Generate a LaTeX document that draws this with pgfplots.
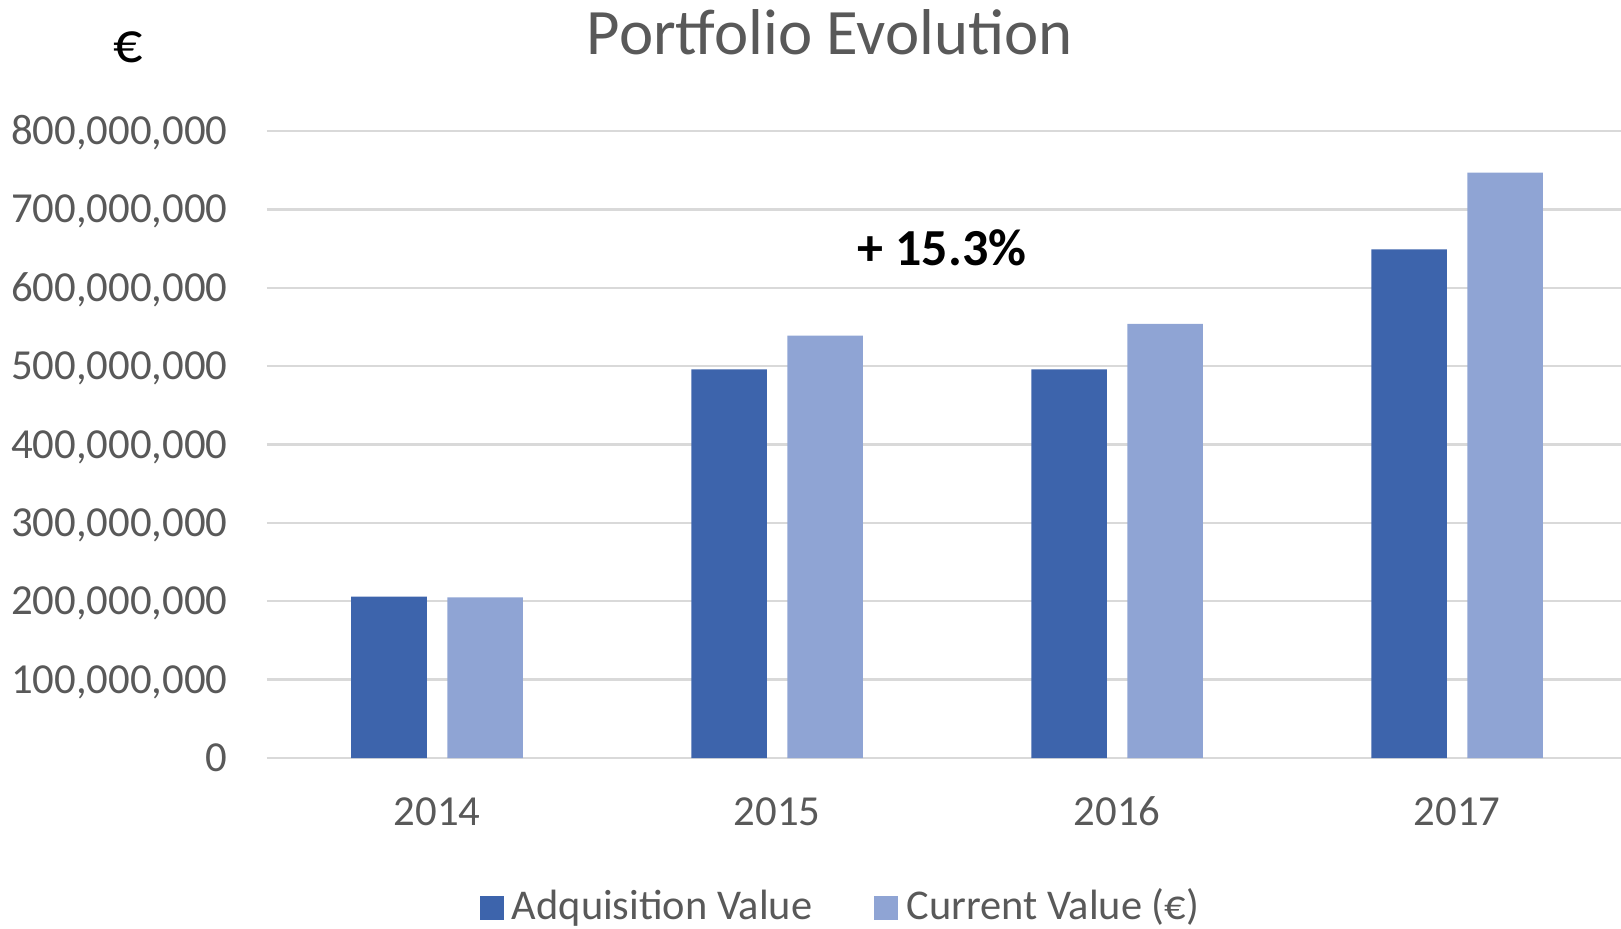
\documentclass[border=0pt]{standalone}
\usepackage{fontspec}
\setmainfont{Carlito}
\usepackage{pgfplots}
\pgfplotsset{compat=1.18}
\definecolor{acq}{RGB}{61,100,172}
\definecolor{cur}{RGB}{143,164,212}
\definecolor{txtgray}{RGB}{89,89,89}
\definecolor{gridgray}{RGB}{217,217,217}

\begin{document}
\begin{tikzpicture}
\begin{axis}[
    at={(0pt,0pt)}, anchor=south west,
    scale only axis,
    width=680pt, height=313.5pt,
    xmin=-0.5, xmax=3.5,
    ymin=0, ymax=800,
    ybar=10.25pt, bar width=37.75pt,
    axis line style={draw=none},
    major tick length=0pt,
    xtick={0,1,2,3},
    xticklabels={2014,2015,2016,2017},
    ytick={0,100,200,300,400,500,600,700,800},
    yticklabels={0,{100,000,000},{200,000,000},{300,000,000},{400,000,000},{500,000,000},{600,000,000},{700,000,000},{800,000,000}},
    ymajorgrids,
    grid style={gridgray, line width=1.2pt},
    tick label style={font=\fontsize{21.4}{25}\selectfont, text=txtgray, inner sep=0pt},
    xticklabel style={anchor=base, yshift=-33.5pt},
    yticklabel style={anchor=base east, xshift=-19.5pt, yshift=-6.75pt},
    /pgf/number format/assume math mode=true,
    legend columns=2,
    legend style={
        at={(axis description cs:0.4209,-0.2360)}, anchor=center,
        draw=none, fill=none, inner sep=0pt,
        font=\fontsize{21.2}{25}\selectfont, text=txtgray,
        nodes={inner sep=0pt},
        /tikz/every odd column/.append style={column sep=4.15pt},
        /tikz/every even column/.append style={column sep=31pt},
    },
    legend image code/.code={\draw[#1,draw=none] (0pt,-7.25pt) rectangle (12pt,4.75pt);},
]
\addplot[fill=acq, draw=none] coordinates {(0,206) (1,496) (2,496) (3,649)};
\addlegendentry{Adquisition Value}
\addplot[fill=cur, draw=none] coordinates {(0,205) (1,539) (2,554) (3,747)};
\addlegendentry{Current Value (€)}
\end{axis}
\node[anchor=base, text=txtgray, font=\fontsize{32.4}{38}\selectfont] at (281.5pt,351.5pt) {Portfolio Evolution};
\node[anchor=base, font=\fontsize{29}{34}\selectfont] at (-69.25pt,347.5pt) {€};
\node[anchor=base, font=\bfseries\fontsize{26}{30}\selectfont] at (337.5pt,246.5pt) {+ 15.3\%};
\pgfresetboundingbox
\useasboundingbox (-133.5pt,-85pt) rectangle (677pt,379pt);
\end{tikzpicture}
\end{document}
